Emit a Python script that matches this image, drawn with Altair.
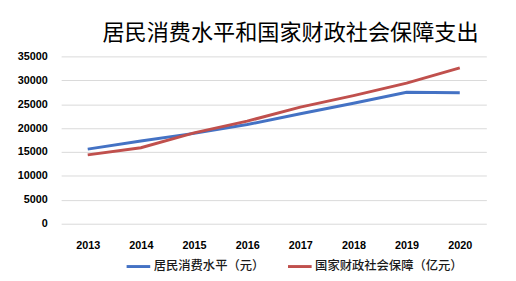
import altair as alt
import pandas as pd

years = ["2013", "2014", "2015", "2016", "2017", "2018", "2019", "2020"]
consumption = [15600, 17300, 18900, 20750, 23000, 25200, 27500, 27400]
social_security = [14400, 15900, 19000, 21450, 24400, 26800, 29400, 32600]
series_names = ["居民消费水平（元）", "国家财政社会保障（亿元）"]
y_ticks = [0, 5000, 10000, 15000, 20000, 25000, 30000, 35000]

rows = []
for i, y in enumerate(years):
    rows.append({"year": y, "value": consumption[i], "series": series_names[0]})
    rows.append({"year": y, "value": social_security[i], "series": series_names[1]})
df = pd.DataFrame(rows)

chart = alt.Chart(df).mark_line(strokeWidth=3).encode(
    x=alt.X("year:O", sort=years, scale=alt.Scale(padding=0.5),
            axis=alt.Axis(title=None, labelAngle=0, domain=False, ticks=False,
                          labelPadding=16, labelFont="Liberation Sans",
                          labelFontWeight="bold", labelFontSize=11, labelColor="#000000")),
    y=alt.Y("value:Q", scale=alt.Scale(domain=[0, 35000], nice=False),
            axis=alt.Axis(title=None, values=y_ticks, format="d", domain=False, ticks=False,
                          labelPadding=14, labelFont="Liberation Sans",
                          labelFontWeight="bold", labelFontSize=11, labelColor="#000000",
                          gridColor="#D9D9D9", gridWidth=1)),
    color=alt.Color("series:N", sort=series_names,
                    scale=alt.Scale(domain=series_names, range=["#4472C4", "#C0504D"]),
                    legend=alt.Legend(title=None, orient="none", direction="horizontal",
                                      legendX=65, legendY=200,
                                      symbolType="stroke", symbolSize=576, symbolStrokeWidth=3,
                                      labelFont="Noto Sans CJK SC", labelFontSize=12.5,
                                      labelFontWeight=500,
                                      labelColor="#1a1a1a", labelOffset=2, columnPadding=17)),
).properties(
    width=432,
    height=170,
    title=alt.TitleParams("居民消费水平和国家财政社会保障支出", font="Noto Sans CJK SC",
                          fontSize=22.5, fontWeight="normal", color="#000000",
                          anchor="middle", dx=17, offset=6),
    padding={"left": 54, "top": 47, "right": 22, "bottom": 56},
    autosize=alt.AutoSizeParams(type="none"),
).configure_view(stroke=None)

chart.save("out.html", embed_options={"renderer": "svg", "actions": False})
